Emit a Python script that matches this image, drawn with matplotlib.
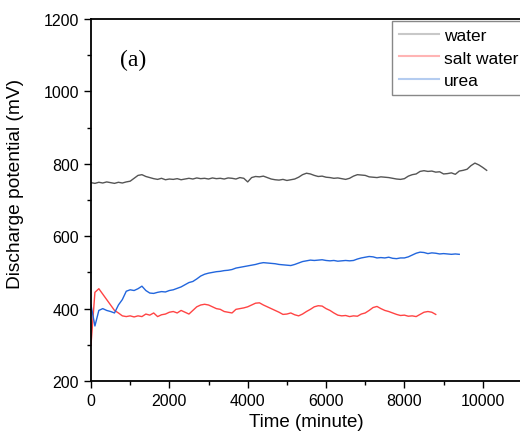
import numpy as np
import matplotlib
matplotlib.use("Agg")
import matplotlib.pyplot as plt
from matplotlib.lines import Line2D
from matplotlib.ticker import MultipleLocator

REG = ['Liberation Sans', 'DejaVu Sans']

# sampling step of the recorded series (minutes)
step = 100

water = [748, 746, 749, 747, 750, 748, 746, 749, 747, 750,
         752, 760, 768, 770, 765, 762, 759, 757, 760, 756,
         758, 757, 759, 756, 758, 760, 758, 761, 759, 760,
         758, 761, 759, 760, 758, 761, 760, 758, 762, 760,
         750, 762, 765, 764, 766, 762, 758, 756, 755, 757,
         754, 756, 758, 763, 770, 774, 772, 768, 765, 766,
         763, 762, 760, 761, 759, 757, 760, 766, 770, 769,
         768, 764, 763, 762, 764, 763, 762, 760, 758, 757,
         759, 766, 770, 772, 779, 781, 779, 780, 777, 778,
         772, 773, 775, 771, 780, 782, 785, 795, 802, 797,
         790, 782]

salt_water = [300, 445, 455, 440, 425, 410, 395, 388, 380, 378,
              380, 377, 380, 378, 385, 382, 388, 378, 383, 385,
              390, 392, 388, 395, 390, 385, 395, 405, 410, 412,
              410, 405, 400, 398, 392, 390, 388, 398, 400, 402,
              405, 410, 415, 416, 410, 405, 400, 395, 390, 384,
              385, 388, 383, 380, 385, 392, 398, 405, 408, 407,
              400, 395, 388, 382, 380, 381, 378, 380, 379, 385,
              388, 395, 403, 406, 400, 395, 392, 388, 384, 381,
              382, 379, 380, 378, 384, 390, 392, 390, 384]

urea = [410, 352, 395, 400, 395, 392, 388, 410, 425, 448,
        452, 450, 455, 462, 450, 443, 442, 445, 447, 446,
        450, 452, 456, 460, 466, 472, 475, 482, 490, 495,
        498, 500, 502, 503, 505, 506, 508, 512, 514, 516,
        518, 520, 522, 525, 527, 526, 525, 524, 522, 521,
        520, 519, 522, 526, 530, 532, 534, 533, 534, 535,
        533, 532, 533, 531, 532, 533, 532, 533, 537, 540,
        542, 544, 543, 540, 541, 540, 542, 539, 538, 540,
        540, 543, 548, 553, 556, 555, 552, 554, 553, 551,
        552, 551, 550, 551, 550]

labels = ['water', 'salt water', 'urea']
colors = ['#555555', '#ff4444', '#2266dd']
legend_colors = ['#c8c8c8', '#ffb4b4', '#b4ccf0']

x_ticks = [0, 2000, 4000, 6000, 8000, 10000]
y_ticks = [200, 400, 600, 800, 1000, 1200]

plt.rcParams['font.family'] = REG

fig = plt.figure(figsize=(5.2, 4.39), dpi=100)
ax = fig.add_axes([0.175, 0.1298, 0.8287, 0.8246])

for vals, c in zip([water, salt_water, urea], colors):
    t = np.arange(len(vals)) * step
    ax.plot(t, vals, color=c, lw=1.0)

ax.set_xlim(0, 11000)
ax.set_ylim(200, 1200)
ax.set_xticks(x_ticks)
ax.set_yticks(y_ticks)
ax.xaxis.set_minor_locator(MultipleLocator(1000))
ax.yaxis.set_minor_locator(MultipleLocator(100))
ax.tick_params(which='major', direction='out', length=5, width=1.0, labelsize=11.5)
ax.tick_params(which='minor', direction='out', length=3, width=1.0)
for s in ax.spines.values():
    s.set_linewidth(1.3)

ax.set_xlabel('Time (minute)', fontsize=13.5, labelpad=4)
ax.set_ylabel('Discharge potential (mV)', fontsize=13.8)
ax.yaxis.set_label_coords(-0.155, 0.547)

ax.text(740, 1087, '(a)', family=['Liberation Serif', 'DejaVu Serif'],
        fontsize=17, va='center', ha='left')

handles = [Line2D([0], [0], color=c, lw=1.5) for c in legend_colors]
leg = fig.legend(handles, labels, loc='upper left',
                 bbox_to_anchor=(392 / 520, 1 - 22 / 439),
                 prop={'size': 12.5},
                 frameon=True, fancybox=False, shadow=False, framealpha=1,
                 edgecolor='#888888', handlelength=2.3, handletextpad=0.3,
                 labelspacing=0.42, borderpad=0.4, borderaxespad=0)
leg.get_frame().set_linewidth(1.0)

fig.savefig('out.png', dpi=100)
